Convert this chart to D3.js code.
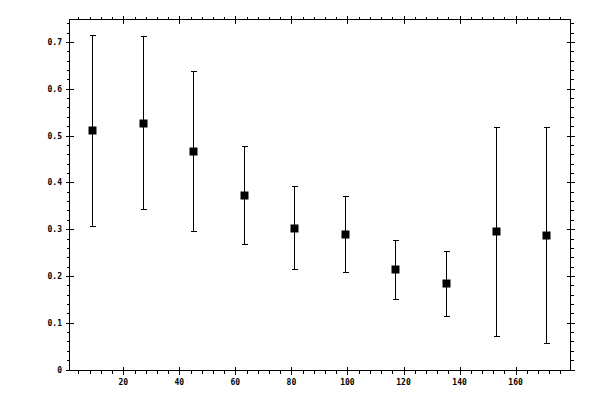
<!DOCTYPE html>
<html>
<head>
<meta charset="utf-8">
<script src="https://cdn.jsdelivr.net/npm/d3@7"></script>
<style>
  body { margin: 0; background: #fff; }
  text { font-family: "DejaVu Sans Mono", monospace; font-size: 8px; font-weight: bold; fill: #000; }
</style>
</head>
<body>
<div id="chart"></div>
<script>
const svgWidth = 600;
const svgHeight = 400;

// bin centres and measured values
const binX = [9, 27, 45, 63, 81, 99, 117, 135, 153, 171];
const means = [0.512, 0.527, 0.467, 0.373, 0.302, 0.289, 0.214, 0.184, 0.296, 0.287];
const upper = [0.715, 0.712, 0.638, 0.477, 0.392, 0.371, 0.276, 0.254, 0.519, 0.519];
const lower = [0.307, 0.343, 0.296, 0.268, 0.214, 0.208, 0.150, 0.114, 0.071, 0.056];

const xTicks = [20, 40, 60, 80, 100, 120, 140, 160];
const yTicks = [0, 0.1, 0.2, 0.3, 0.4, 0.5, 0.6, 0.7];

const plotLeft = 69.5, plotRight = 570.5, plotTop = 19.5, plotBottom = 370.5;

const x = d3.scaleLinear().domain([0.8, 179.6]).range([plotLeft, plotRight]);
const y = d3.scaleLinear().domain([-0.002, 0.748]).range([plotBottom, plotTop]);

const svg = d3.select("#chart")
  .append("svg")
  .attr("width", svgWidth)
  .attr("height", svgHeight);

// frame
svg.append("rect")
  .attr("x", plotLeft).attr("y", plotTop)
  .attr("width", plotRight - plotLeft).attr("height", plotBottom - plotTop)
  .attr("fill", "none").attr("stroke", "#000").attr("stroke-width", 1);

const ticks = svg.append("g").attr("stroke", "#000").attr("stroke-width", 1).attr("shape-rendering", "crispEdges");

// minor ticks, outward only
const xMinor = d3.range(4, 180, 4).filter(v => v % 20 !== 0);
const yMinor = d3.range(0.02, 0.75, 0.02).filter(v => Math.abs(v * 10 - Math.round(v * 10)) > 1e-6);

xMinor.forEach(v => {
  const px = Math.round(x(v)) + 0.5;
  ticks.append("line").attr("x1", px).attr("x2", px).attr("y1", plotBottom).attr("y2", plotBottom + 3);
  ticks.append("line").attr("x1", px).attr("x2", px).attr("y1", plotTop).attr("y2", plotTop - 3);
});
yMinor.forEach(v => {
  const py = Math.round(y(v)) + 0.5;
  ticks.append("line").attr("y1", py).attr("y2", py).attr("x1", plotLeft).attr("x2", plotLeft - 3);
  ticks.append("line").attr("y1", py).attr("y2", py).attr("x1", plotRight).attr("x2", plotRight + 3);
});

// major ticks cross the frame
xTicks.forEach(v => {
  const px = Math.round(x(v)) + 0.5;
  ticks.append("line").attr("x1", px).attr("x2", px).attr("y1", plotBottom - 4).attr("y2", plotBottom + 4);
  ticks.append("line").attr("x1", px).attr("x2", px).attr("y1", plotTop - 4).attr("y2", plotTop + 4);
});
yTicks.forEach(v => {
  const py = Math.round(y(v)) + 0.5;
  ticks.append("line").attr("y1", py).attr("y2", py).attr("x1", plotLeft - 4).attr("x2", plotLeft + 4);
  ticks.append("line").attr("y1", py).attr("y2", py).attr("x1", plotRight - 4).attr("x2", plotRight + 4);
});

// tick labels
svg.append("g").selectAll("text")
  .data(xTicks)
  .join("text")
  .attr("x", d => x(d))
  .attr("y", plotBottom + 14)
  .attr("text-anchor", "middle")
  .text(d => d);

svg.append("g").selectAll("text")
  .data(yTicks)
  .join("text")
  .attr("x", 62)
  .attr("y", d => y(d) + 3)
  .attr("text-anchor", "end")
  .text(d => d === 0 ? "0" : d3.format(".1f")(d));

// error bars
const points = binX.map((b, i) => ({ x: b, m: means[i], hi: upper[i], lo: lower[i] }));

const bars = svg.append("g").attr("stroke", "#000").attr("stroke-width", 1).attr("shape-rendering", "crispEdges");
points.forEach(d => {
  const px = Math.round(x(d.x)) + 0.5;
  bars.append("line").attr("x1", px).attr("x2", px).attr("y1", y(d.hi)).attr("y2", y(d.lo));
  bars.append("line").attr("x1", px - 3).attr("x2", px + 3).attr("y1", Math.round(y(d.hi)) + 0.5).attr("y2", Math.round(y(d.hi)) + 0.5);
  bars.append("line").attr("x1", px - 3).attr("x2", px + 3).attr("y1", Math.round(y(d.lo)) + 0.5).attr("y2", Math.round(y(d.lo)) + 0.5);
});

// square markers
svg.append("g").selectAll("rect")
  .data(points)
  .join("rect")
  .attr("x", d => Math.round(x(d.x)) - 3.5)
  .attr("y", d => Math.round(y(d.m)) - 3.5)
  .attr("width", 8)
  .attr("height", 8)
  .attr("fill", "#000");
</script>
</body>
</html>
